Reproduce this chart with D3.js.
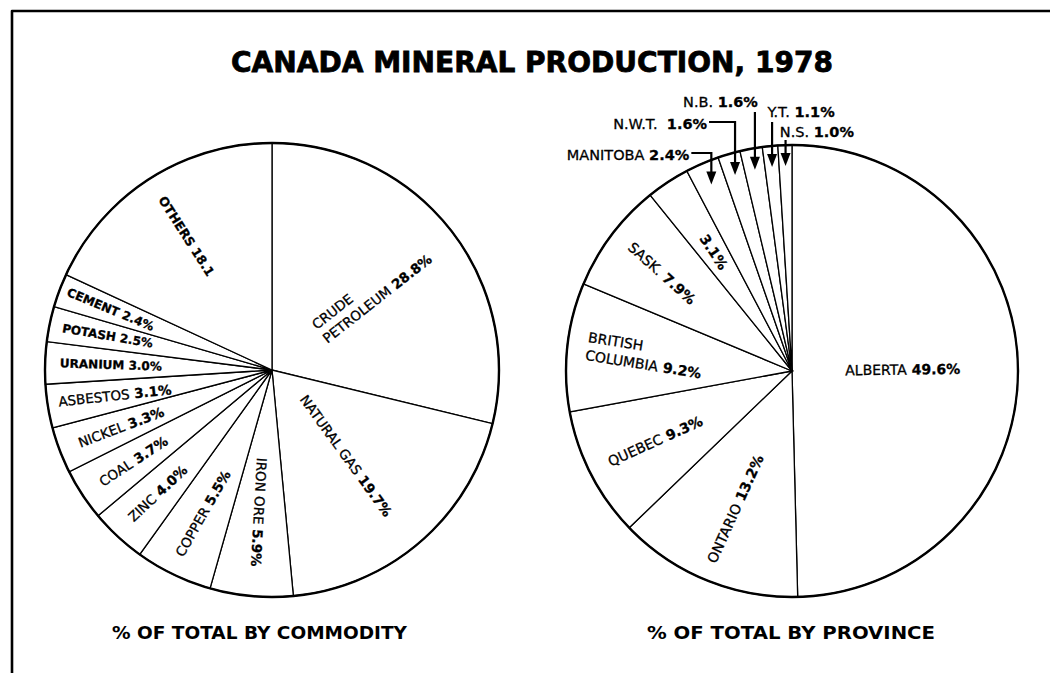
<!DOCTYPE html>
<html>
<head>
<meta charset="utf-8">
<script src="https://cdn.jsdelivr.net/npm/d3@7"></script>
<style>
  body { margin: 0; background: #fff; }
  svg text { font-family: "DejaVu Sans", sans-serif; fill: #000; }
</style>
</head>
<body>
<div id="chart"></div>
<script>
// data
var commodities = ["CRUDE\nPETROLEUM", "NATURAL GAS", "IRON ORE", "COPPER", "ZINC", "COAL",
                   "NICKEL", "ASBESTOS", "URANIUM", "POTASH", "CEMENT", "OTHERS"];
var commodityShare = [28.8, 19.7, 5.9, 5.5, 4.0, 3.7, 3.3, 3.1, 3.0, 2.5, 2.4, 18.1];

var provinces = ["ALBERTA", "ONTARIO", "QUEBEC", "BRITISH\nCOLUMBIA", "SASK.", "",
                 "MANITOBA", "N.W.T.", "N.B.", "Y.T.", "N.S."];
var provinceShare = [49.6, 13.2, 9.3, 9.2, 7.9, 3.1, 2.4, 1.6, 1.6, 1.1, 1.0];

var noPct = ["OTHERS"];

// label layout: radius fraction, font size, bold name, extra rotation
var commodityLayout = [
    {r: 0.56, size: 13.5},
    {r: 0.50, size: 13.5, rot: 5},
    {r: 0.63, size: 13.5, rot: -2},
    {r: 0.70, size: 13.5, rot: 4},
    {r: 0.74, size: 13.5, rot: 4},
    {r: 0.73, size: 13.5},
    {r: 0.71, size: 13.5},
    {r: 0.70, size: 13.5, rot: 3},
    {r: 0.71, size: 12, bold: true},
    {r: 0.74, size: 12, bold: true, rot: -2},
    {r: 0.76, size: 12, bold: true, rot: 2},
    {r: 0.70, size: 12.5, bold: true}
];
var provinceLayout = [
    {r: 0.49, size: 14},
    {r: 0.66, size: 14, rot: 2},
    {r: 0.68, size: 14, rot: 3},
    {r: 0.655, size: 14, rot: 3},
    {r: 0.72, size: 14, rot: 5},
    {r: 0.63, size: 14}
];
// arrow callouts for the thin slices (index into provinces)
var callouts = [
    {i: 6, anchor: "end", dx: -22, base: 160, lineY: 153},
    {i: 7, anchor: "end", dx: -28, base: 129, lineY: 122},
    {i: 8, anchor: "end", dx: 3, base: 106.5, top: 112},
    {i: 9, anchor: "start", dx: -4.5, base: 116.5, top: 122},
    {i: 10, anchor: "start", dx: -5.7, base: 136.5, top: 140}
];

var width = 1050, height = 673;

var svg = d3.select("#chart").append("svg")
    .attr("width", width)
    .attr("height", height);

// frame (top + left edge only)
svg.append("path")
    .attr("d", "M12,673 V11 H1050")
    .attr("fill", "none")
    .attr("stroke", "#000")
    .attr("stroke-width", 2.6)
    .attr("stroke-linejoin", "round");

svg.append("text")
    .attr("x", 532)
    .attr("y", 72)
    .attr("text-anchor", "middle")
    .attr("textLength", 602)
    .attr("lengthAdjust", "spacingAndGlyphs")
    .style("font-size", "29px")
    .style("font-weight", "bold")
    .style("stroke", "#000")
    .style("stroke-width", 0.8)
    .text("CANADA MINERAL PRODUCTION, 1978");

var captions = [["% OF TOTAL BY COMMODITY", 259.5, 295], ["% OF TOTAL BY PROVINCE", 791, 288]];
captions.forEach(function(c) {
    svg.append("text")
        .attr("x", c[1])
        .attr("y", 638.5)
        .attr("text-anchor", "middle")
        .attr("textLength", c[2])
        .attr("lengthAdjust", "spacingAndGlyphs")
        .style("font-size", "18px")
        .style("font-weight", "bold")
        .text(c[0]);
});

function make_data(names, values) {
    var out = [];
    for (var i = 0; i < names.length; i++) {
        out.push({name: names[i], num: values[i]});
    }
    return out;
}

var pie = d3.pie()
    .sort(null)
    .startAngle(0)
    .endAngle(2 * Math.PI)
    .value(function(d) { return d.num; });

function draw_pie(data, cx, cy, radius, layout) {
    var g = svg.append("g")
        .attr("transform", "translate(" + cx + "," + cy + ")");

    var arcs = pie(data);
    var arc = d3.arc().innerRadius(0).outerRadius(radius);

    g.selectAll(".slice")
        .data(arcs)
        .enter().append("path")
        .attr("class", "slice")
        .attr("d", arc)
        .attr("fill", "#fff")
        .attr("stroke", "#000")
        .attr("stroke-width", 1.3)
        .attr("stroke-linejoin", "miter");

    g.append("circle")
        .attr("r", radius)
        .attr("fill", "none")
        .attr("stroke", "#000")
        .attr("stroke-width", 2.4);

    arcs.forEach(function(d, i) {
        var lay = layout[i];
        if (!lay) return;
        var mid = (d.startAngle + d.endAngle) / 2;
        var deg = mid * 180 / Math.PI;
        var rot = deg > 190 ? deg + 90 : deg - 90;
        rot += lay.rot || 0;
        var lr = radius * lay.r;
        var x = Math.sin(mid) * lr, y = -Math.cos(mid) * lr;

        var lg = g.append("g")
            .attr("transform", "translate(" + x + "," + y + ") rotate(" + rot + ")");
        var t = lg.append("text")
            .style("font-size", lay.size + "px")
            .style("stroke", "#000")
            .style("stroke-width", 0.3);
        var lines = d.data.name ? d.data.name.split("\n") : [""];
        lines.forEach(function(line, j) {
            t.append("tspan")
                .attr("x", 0)
                .attr("dy", j ? "1.3em" : 0)
                .style("font-weight", lay.bold ? "bold" : "normal")
                .text(line);
            if (j === lines.length - 1) {
                var pct = d.data.num.toFixed(1) + (noPct.indexOf(d.data.name) >= 0 ? "" : "%");
                t.append("tspan")
                    .style("font-weight", "bold")
                    .text((line ? " " : "") + pct);
            }
        });
        var bb = t.node().getBBox();
        t.attr("transform", "translate(" + (-bb.x - bb.width / 2) + "," + (-bb.y - bb.height / 2) + ")");
    });
    return arcs;
}

var lcx = 272, lcy = 370, lr = 227;
var rcx = 792, rcy = 371, rr = 226;

draw_pie(make_data(commodities, commodityShare), lcx, lcy, lr, commodityLayout);
var provArcs = draw_pie(make_data(provinces, provinceShare), rcx, rcy, rr, provinceLayout);

// arrows for the thin province slices
callouts.forEach(function(c) {
    var d = provArcs[c.i];
    var mid = (d.startAngle + d.endAngle) / 2;
    var tipR = rr - 21 / Math.cos(mid);
    var tx = rcx + Math.sin(mid) * tipR;
    var ty = rcy - Math.cos(mid) * tipR;

    var path;
    if (c.lineY !== undefined) {
        path = "M" + (tx + c.dx + 2) + "," + c.lineY + " H" + tx + " V" + (ty - 8);
    } else {
        path = "M" + tx + "," + c.top + " V" + (ty - 8);
    }
    svg.append("path")
        .attr("d", path)
        .attr("fill", "none")
        .attr("stroke", "#000")
        .attr("stroke-width", 2.2);

    svg.append("path")
        .attr("d", "M" + tx + "," + ty + " L" + (tx - 5) + "," + (ty - 13) + " L" + (tx + 5) + "," + (ty - 13) + "Z")
        .attr("fill", "#000");

    var t = svg.append("text")
        .attr("x", tx + c.dx)
        .attr("y", c.base)
        .attr("text-anchor", c.anchor)
        .style("font-size", "14.5px")
        .style("stroke", "#000")
        .style("stroke-width", 0.3);
    t.append("tspan").text(d.data.name + (d.data.name === "N.W.T." ? "\u00a0 " : " "));
    t.append("tspan").style("font-weight", "bold").text(d.data.num.toFixed(1) + "%");
});
</script>
</body>
</html>
